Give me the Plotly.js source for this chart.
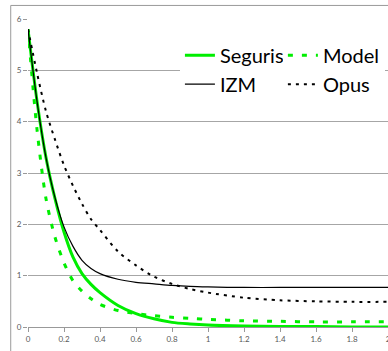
<!DOCTYPE html>
<html>
<head>
<meta charset="utf-8">
<script src="https://cdn.plot.ly/plotly-3.0.1.min.js"></script>
<style>
  html, body { margin: 0; padding: 0; background: #ffffff; overflow: hidden; }
  #chart { width: 420px; height: 351px; }
</style>
</head>
<body>
<div id="chart"></div>
<script>
// Sample positions along the horizontal axis
const xs = [0, 0.05, 0.1, 0.15, 0.2, 0.25, 0.3, 0.35, 0.4, 0.5, 0.6, 0.7, 0.8, 0.9, 1.0, 1.2, 1.4, 1.6, 1.8, 2.0];

// Series values
const seguris = [5.8, 4.4, 3.3, 2.5, 1.85, 1.36, 1.04, 0.83, 0.67, 0.42, 0.26, 0.16, 0.09, 0.06, 0.04, 0.02, 0.01, 0.01, 0.0, 0.0];
const model   = [5.8, 3.85, 2.5, 1.75, 1.25, 0.9, 0.7, 0.55, 0.44, 0.32, 0.26, 0.22, 0.19, 0.17, 0.15, 0.12, 0.11, 0.1, 0.1, 0.1];
const izm     = [5.8, 4.4, 3.3, 2.52, 1.95, 1.57, 1.3, 1.14, 1.04, 0.93, 0.87, 0.84, 0.81, 0.79, 0.78, 0.77, 0.77, 0.77, 0.77, 0.77];
const opus    = [5.8, 4.95, 4.2, 3.65, 3.15, 2.75, 2.4, 2.1, 1.89, 1.47, 1.2, 0.98, 0.84, 0.74, 0.67, 0.57, 0.52, 0.5, 0.49, 0.49];

// Axis ticks
const xTicks = [0, 0.2, 0.4, 0.6, 0.8, 1, 1.2, 1.4, 1.6, 1.8, 2];
const xTickText = ['0', '0.2', '0.4', '0.6', '0.8', '1', '1.2', '1.4', '1.6', '1.8', '2'];
const yTicks = [0, 1, 2, 3, 4, 5, 6];

const green = '#00ee00';
const spline = { shape: 'spline', smoothing: 0.8 };

// Two legend columns: solid lines on the left, broken lines on the right
const traces = [
  { name: 'Seguris', x: xs, y: seguris, mode: 'lines', legend: 'legend', legendgroup: 'a',
    line: Object.assign({ color: green, width: 3 }, spline) },
  { name: 'Model', x: xs, y: model, mode: 'lines', legend: 'legend2', legendgroup: 'b',
    line: Object.assign({ color: green, width: 3, dash: '5px,9px' }, spline) },
  { name: 'IZM', x: xs, y: izm, mode: 'lines', legend: 'legend', legendgroup: 'c',
    line: Object.assign({ color: '#000000', width: 1.2 }, spline) },
  { name: 'Opus', x: xs, y: opus, mode: 'lines', legend: 'legend2', legendgroup: 'd',
    line: Object.assign({ color: '#000000', width: 2, dash: '3px,5px' }, spline) }
];

const legendFont = { family: 'Lato, Calibri, sans-serif', size: 20, color: '#000000' };
const legendBase = {
  orientation: 'v',
  xanchor: 'left',
  y: 0.946, yanchor: 'top',
  bgcolor: '#ffffff',
  font: legendFont,
  tracegroupgap: 0,
  traceorder: 'grouped'
};

const layout = {
  width: 420,
  height: 351,
  margin: { l: 28, r: 32, t: 19, b: 24 },
  paper_bgcolor: '#ffffff',
  plot_bgcolor: '#ffffff',
  font: { family: 'Lato, Calibri, sans-serif', color: '#595959', size: 8 },
  showlegend: true,
  legend: Object.assign({}, legendBase, { x: 0.422 }),
  legend2: Object.assign({}, legendBase, { x: 0.708 }),
  xaxis: {
    range: [0, 2],
    tickvals: xTicks,
    ticktext: xTickText,
    ticks: 'outside',
    ticklen: 4,
    tickcolor: '#999999',
    showline: true,
    linecolor: '#999999',
    linewidth: 1,
    showgrid: false,
    zeroline: false,
    tickfont: { size: 8, color: '#595959' }
  },
  yaxis: {
    range: [0, 6],
    tickvals: yTicks,
    ticks: 'outside',
    ticklen: 4,
    tickcolor: '#999999',
    showline: false,
    showgrid: true,
    gridcolor: '#a6a6a6',
    gridwidth: 1,
    zeroline: false,
    tickfont: { size: 8, color: '#595959' }
  },
  shapes: [
    { type: 'rect', xref: 'paper', yref: 'paper',
      x0: -0.048, x1: 1.5, y0: -0.3, y1: 1.044,
      line: { color: '#9a9a9a', width: 1 }, fillcolor: 'rgba(0,0,0,0)', layer: 'below' }
  ]
};

Plotly.newPlot('chart', traces, layout, { displayModeBar: false, staticPlot: true });
</script>
</body>
</html>
